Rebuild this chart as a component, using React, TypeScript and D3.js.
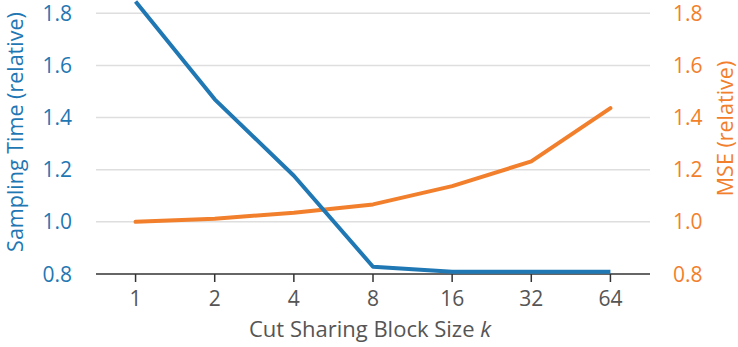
import React from "react";
import * as d3 from "d3";

const categories: string[] = ["1", "2", "4", "8", "16", "32", "64"];
const samplingTime: number[] = [1.845, 1.47, 1.177, 0.828, 0.809, 0.809, 0.809];
const mse: number[] = [1.0, 1.012, 1.035, 1.067, 1.137, 1.232, 1.436];
const yTicks: number[] = [0.8, 1.0, 1.2, 1.4, 1.6, 1.8];

const W = 738;
const H = 347;
const BLUE = "#1f77b4";
const ORANGE = "#f27f2c";
const FONT = "'Open Sans', sans-serif";

export default function App() {
  const x = d3.scalePoint<string>().domain(categories).range([96, 650]).padding(0.5);
  const y = d3.scaleLinear().domain([0.8, 1.8]).range([274, 13.3]);
  const line = d3
    .line<number>()
    .x((_, i) => x(categories[i]) as number)
    .y((d) => y(d));

  return (
    <svg
      width={W}
      height={H}
      style={{ position: "absolute", left: 0, top: 0, background: "#fff" }}
    >
      {yTicks
        .filter((t) => t > 0.8)
        .map((t) => (
          <line
            key={"g" + t}
            x1={96}
            x2={650}
            y1={y(t)}
            y2={y(t)}
            stroke="#dedede"
            strokeWidth={1.5}
          />
        ))}
      <line x1={96} x2={650} y1={y(0.8)} y2={y(0.8)} stroke="#333" strokeWidth={1.5} />
      {categories.map((c) => (
        <g key={"x" + c}>
          <line
            x1={x(c)}
            x2={x(c)}
            y1={y(0.8)}
            y2={y(0.8) + 8}
            stroke="#333"
            strokeWidth={1.5}
          />
          <text
            x={x(c)}
            y={306}
            textAnchor="middle"
            fontFamily={FONT}
            fontSize={21}
            fill="#555"
          >
            {c}
          </text>
        </g>
      ))}
      {yTicks.map((t) => (
        <text
          key={"yl" + t}
          x={72}
          y={y(t) + 7.5}
          textAnchor="end"
          fontFamily={FONT}
          fontSize={21}
          fill={BLUE}
        >
          {t.toFixed(1)}
        </text>
      ))}
      {yTicks.map((t) => (
        <text
          key={"yr" + t}
          x={673}
          y={y(t) + 7.5}
          textAnchor="start"
          fontFamily={FONT}
          fontSize={21}
          fill={ORANGE}
        >
          {t.toFixed(1)}
        </text>
      ))}
      <path
        d={line(mse) || ""}
        fill="none"
        stroke={ORANGE}
        strokeWidth={4}
        strokeLinejoin="round"
        strokeLinecap="round"
      />
      <path
        d={line(samplingTime) || ""}
        fill="none"
        stroke={BLUE}
        strokeWidth={4}
        strokeLinejoin="round"
        strokeLinecap="butt"
      />
      <text
        transform="translate(23,132) rotate(-90)"
        textAnchor="middle"
        fontFamily={FONT}
        fontSize={21.5}
        fill={BLUE}
      >
        Sampling Time (relative)
      </text>
      <text
        transform="translate(733,128.5) rotate(-90)"
        textAnchor="middle"
        fontFamily={FONT}
        fontSize={21.5}
        fill={ORANGE}
      >
        MSE (relative)
      </text>
      <text
        x={370}
        y={337}
        textAnchor="middle"
        fontFamily={FONT}
        fontSize={22}
        fill="#555"
      >
        Cut Sharing Block Size <tspan fontStyle="italic">k</tspan>
      </text>
    </svg>
  );
}
